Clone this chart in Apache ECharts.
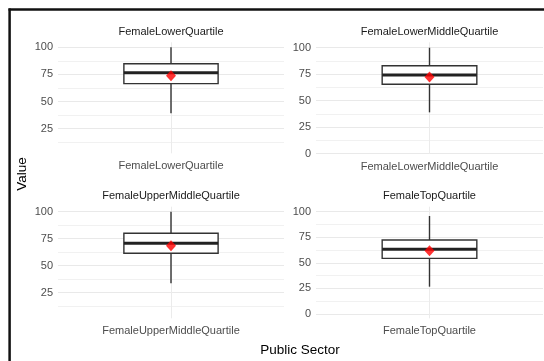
<!DOCTYPE html>
<html>
<head>
<meta charset="utf-8">
<script src="https://cdn.jsdelivr.net/npm/echarts@6/dist/echarts.min.js"></script>
<style>
  html, body { margin: 0; padding: 0; background: #ffffff; }
  #chart { width: 544px; height: 361px; }
</style>
</head>
<body>
<div id="chart"></div>
<script>
// Box summaries of female share (%) by pay quartile, public sector
const categories = ['FemaleLowerQuartile', 'FemaleLowerMiddleQuartile', 'FemaleUpperMiddleQuartile', 'FemaleTopQuartile'];
const whiskerLow = [39.2, 39.0, 33.7, 26.7];
const lowerHinge = [66.5, 65.5, 61.5, 54.4];
const medians = [76.6, 74.2, 70.7, 63.2];
const upperHinge = [84.9, 83.0, 80.0, 72.3];
const whiskerHigh = [100, 100, 100, 95.8];
const means = [73.8, 72.4, 68.5, 61.9];

// Free y scales per facet
const yMin = [2.3, -0.3, 1.3, -4.2];
const yMax = [104.6, 105.1, 104.6, 104.9];
const majorTicks = [
  [25, 50, 75, 100],
  [0, 25, 50, 75, 100],
  [25, 50, 75, 100],
  [0, 25, 50, 75, 100]
];
const minorTicks = [12.5, 37.5, 62.5, 87.5];

const xTitle = 'Public Sector';
const yTitle = 'Value';

const FONT = "'Liberation Sans', Arial, sans-serif";
const panels = [
  { left: 58, top: 42.3, width: 226, height: 111 },
  { left: 316, top: 42.3, width: 227, height: 111.7 },
  { left: 58, top: 206.7, width: 226, height: 111.6 },
  { left: 316, top: 206.7, width: 227, height: 111.6 }
];
const BOX_FRACTION = 0.417;

function renderBox(params, api) {
  const x = api.value(0);
  const low = api.coord([x, api.value(1)]);
  const q1 = api.coord([x, api.value(2)]);
  const med = api.coord([x, api.value(3)]);
  const q3 = api.coord([x, api.value(4)]);
  const high = api.coord([x, api.value(5)]);
  const half = params.coordSys.width * BOX_FRACTION / 2;
  const cx = med[0];
  return {
    type: 'group',
    children: [
      { type: 'line', shape: { x1: cx, y1: high[1], x2: cx, y2: low[1] },
        style: { stroke: '#333333', lineWidth: 1.4 } },
      { type: 'rect', shape: { x: cx - half, y: q3[1], width: half * 2, height: q1[1] - q3[1] },
        style: { fill: '#ffffff', stroke: '#333333', lineWidth: 1.4 } },
      { type: 'line', shape: { x1: cx - half, y1: med[1], x2: cx + half, y2: med[1] },
        style: { stroke: '#222222', lineWidth: 3 } }
    ]
  };
}

const grid = [], xAxis = [], yAxis = [], series = [], graphic = [];

panels.forEach((p, i) => {
  grid.push({ left: p.left, top: p.top, width: p.width, height: p.height, containLabel: false });

  // category axis carrying the facet label
  xAxis.push({
    type: 'category', gridIndex: i, data: [categories[i]],
    axisLine: { show: false }, axisTick: { show: false }, splitLine: { show: false },
    axisLabel: { color: '#4d4d4d', fontSize: 11, fontFamily: FONT, margin: 7.5 }
  });
  // helper axis for the vertical grid line through the box
  xAxis.push({
    type: 'value', gridIndex: i, min: -1, max: 1,
    axisLine: { show: false }, axisLabel: { show: false },
    axisTick: { show: false, customValues: [0] },
    splitLine: { show: true, lineStyle: { color: '#ebebeb', width: 1 } }
  });

  yAxis.push({
    type: 'value', gridIndex: i, min: yMin[i], max: yMax[i],
    axisLine: { show: false },
    axisTick: { show: false, customValues: majorTicks[i] },
    axisLabel: { customValues: majorTicks[i], color: '#4d4d4d', fontSize: 11, fontFamily: FONT, margin: 5 },
    splitLine: { show: true, lineStyle: { color: '#e9e9e9', width: 1.1 } }
  });
  yAxis.push({
    type: 'value', gridIndex: i, min: yMin[i], max: yMax[i],
    axisLine: { show: false }, axisLabel: { show: false },
    axisTick: { show: false, customValues: minorTicks },
    splitLine: { show: true, lineStyle: { color: '#f1f1f1', width: 1 } }
  });

  series.push({
    type: 'custom', xAxisIndex: 2 * i, yAxisIndex: 2 * i,
    renderItem: renderBox,
    encode: { x: 0, y: [1, 2, 3, 4, 5] },
    data: [[0, whiskerLow[i], lowerHinge[i], medians[i], upperHinge[i], whiskerHigh[i]]],
    z: 3, silent: true
  });
  series.push({
    type: 'scatter', xAxisIndex: 2 * i, yAxisIndex: 2 * i,
    symbol: 'diamond', symbolSize: [10, 11],
    itemStyle: { color: '#ff0000' },
    data: [[0, means[i]]],
    z: 4, silent: true
  });

  // facet strip title
  graphic.push({
    type: 'text', x: p.left + p.width / 2, y: p.top - 10.8,
    style: { text: categories[i], align: 'center', verticalAlign: 'middle', textAlign: 'center', textVerticalAlign: 'middle',
      fill: '#1a1a1a', font: '11px ' + FONT }
  });
});

// axis titles
graphic.push({
  type: 'text', x: 300, y: 350,
  style: { text: xTitle, align: 'center', verticalAlign: 'middle', textAlign: 'center', textVerticalAlign: 'middle',
    fill: '#000000', font: '13.5px ' + FONT }
});
graphic.push({
  type: 'text', x: 22, y: 174, rotation: Math.PI / 2,
  style: { text: yTitle, align: 'center', verticalAlign: 'middle', textAlign: 'center', textVerticalAlign: 'middle',
    fill: '#000000', font: '13.5px ' + FONT }
});
// outer frame
graphic.push({ type: 'line', shape: { x1: 8.5, y1: 9.6, x2: 544, y2: 9.6 }, style: { stroke: '#111111', lineWidth: 2.5 } });
graphic.push({ type: 'line', shape: { x1: 9.6, y1: 8.5, x2: 9.6, y2: 361 }, style: { stroke: '#111111', lineWidth: 2.5 } });

const chart = echarts.init(document.getElementById('chart'), null, { renderer: 'canvas' });
chart.setOption({
  backgroundColor: '#ffffff',
  animation: false,
  grid, xAxis, yAxis, series, graphic
});
</script>
</body>
</html>
